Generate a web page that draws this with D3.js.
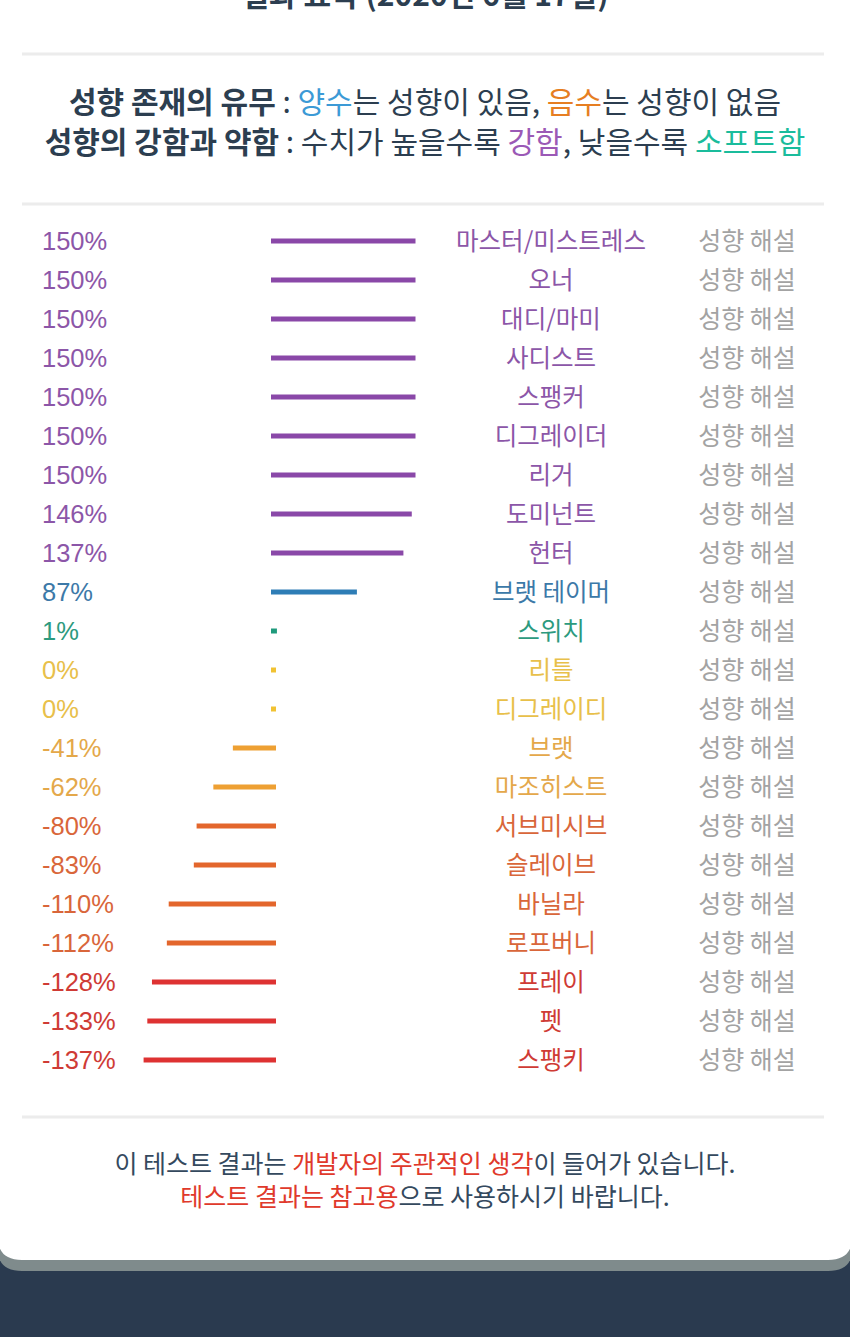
<!DOCTYPE html>
<html><head><meta charset="utf-8">
<script src="https://cdn.jsdelivr.net/npm/d3@7"></script>
<style>
html,body{margin:0;padding:0;background:#fff;}
svg{display:block;}
</style></head>
<body>
<svg id="chart" width="850" height="1337"></svg>
<script>
const categories = ["마스터/미스트레스","오너","대디/마미","사디스트","스팽커","디그레이더","리거","도미넌트","헌터","브랫 테이머","스위치","리틀","디그레이디","브랫","마조히스트","서브미시브","슬레이브","바닐라","로프버니","프레이","펫","스팽키"];
const values = [150,150,150,150,150,150,150,146,137,87,1,0,0,-41,-62,-80,-83,-110,-112,-128,-133,-137];
const linkLabel = "성향 해설";
const colorThresholds = [-120,-70,-20,0.5,50,100];
const barColors = ["#de3232","#e3662c","#eea033","#f1c232","#1f9a7c","#2e7db6","#8a48a8"];
const textColors = ["#cf3b35","#d9663a","#e4a84a","#e8c04a","#2c9a7e","#3c79a8","#8c56a8"];

const svg = d3.select("#chart");
const W = 850, H = 1337;
const KR = "'Noto Sans CJK KR','Noto Sans',sans-serif";
const LAT = "'Liberation Sans',Arial,sans-serif";

// page background (dark navy) and card
svg.append("rect").attr("x",0).attr("y",0).attr("width",W).attr("height",H).attr("fill","#2a3a4f");
svg.append("path").attr("fill","#7f8b8c")
  .attr("d",`M-2,-10 H${W+2} V1250 Q${W+2},1271 ${W-22},1271 H22 Q-2,1271 -2,1250 Z`);
svg.append("path").attr("fill","#ffffff")
  .attr("d",`M-2,-10 H${W+2} V1238 Q${W+2},1260 ${W-22},1260 H22 Q-2,1260 -2,1238 Z`);

// clipped title (cut off at the top edge, as in the source screenshot)
svg.append("text").attr("x",425).attr("y",6).attr("text-anchor","middle")
  .attr("font-family",KR).attr("font-weight",700).attr("font-size",30).attr("fill","#2c3e50")
  .text("결과 요약 (2020년 6월 17일)");

// separators
[54,204,1117].forEach(y=>{
  svg.append("rect").attr("x",22).attr("y",y-1.5).attr("width",802).attr("height",3).attr("fill","#ececec");
});

// legend lines
function richLine(y, parts, size){
  const t = svg.append("text").attr("x",425).attr("y",y).attr("text-anchor","middle")
    .attr("font-family",KR).attr("font-size",size);
  parts.forEach(p=>{
    t.append("tspan").text(p[0]).attr("fill",p[1]).attr("font-weight",p[2]||400);
  });
}
richLine(113,[["성향 존재의 유무","#2c3e50",700],[" : ","#2c3e50"],["양수","#3c9ad6"],["는 성향이 있음, ","#2c3e50"],["음수","#e67e22"],["는 성향이 없음","#2c3e50"]],30);
richLine(153,[["성향의 강함과 약함","#2c3e50",700],[" : 수치가 높을수록 ","#2c3e50"],["강함","#9b59b6"],[", 낮을수록 ","#2c3e50"],["소프트함","#1abc9c"]],30);

// scales
const y = d3.scaleBand().domain(d3.range(categories.length)).range([221.5,1079.5]);
const x = d3.scaleLinear().domain([-150,150]).range([134,413]);
const cBar = d3.scaleThreshold().domain(colorThresholds).range(barColors);
const cText = d3.scaleThreshold().domain(colorThresholds).range(textColors);

const rows = svg.append("g").selectAll("g").data(values).join("g")
  .attr("transform",(d,i)=>`translate(0,${y(i)+y.bandwidth()/2})`);

rows.append("text").attr("x",42).attr("y",0).attr("dy","0.35em")
  .attr("font-family",LAT).attr("font-size",25.5).attr("fill",d=>cText(d))
  .text(d=>d+"%");

rows.append("line")
  .attr("x1",x(0)).attr("x2",d=>x(d)).attr("y1",0).attr("y2",0)
  .attr("stroke",d=>cBar(d)).attr("stroke-width",5).attr("stroke-linecap","square");

rows.append("text").attr("x",551).attr("y",0).attr("dy","0.36em").attr("text-anchor","middle")
  .attr("font-family",KR).attr("font-size",24.5).attr("fill",d=>cText(d))
  .text((d,i)=>categories[i]);

rows.append("text").attr("x",747).attr("y",0).attr("dy","0.36em").attr("text-anchor","middle")
  .attr("font-family",KR).attr("font-size",25).attr("fill","#a3a3a3")
  .text(linkLabel);

// footer
richLine(1173,[["이 테스트 결과는 ","#34495e"],["개발자의 주관적인 생각","#e0392b"],["이 들어가 있습니다.","#34495e"]],25);
richLine(1206,[["테스트 결과는 참고용","#e0392b"],["으로 사용하시기 바랍니다.","#34495e"]],25);
</script>
</body></html>
